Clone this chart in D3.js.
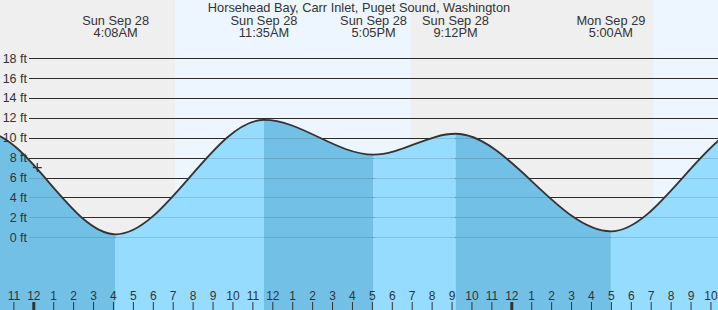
<!DOCTYPE html>
<html>
<head>
<meta charset="utf-8">
<script src="https://cdn.jsdelivr.net/npm/d3@7"></script>
<style>
  body { margin: 0; }
  svg { display: block; font-family: "Liberation Sans", Arial, sans-serif; }
</style>
</head>
<body>
<svg width="718" height="310"></svg>
<script>
const svg = d3.select('svg');
const width = +svg.attr("width");
const height = +svg.attr("height");

const title = "Horsehead Bay, Carr Inlet, Puget Sound, Washington";

// tide extremes (first two and last two lie just outside the view)
const tideTimes = [
    new Date(2025, 8, 27, 16, 20),
    new Date(2025, 8, 27, 21, 30),
    new Date(2025, 8, 28, 4, 8),
    new Date(2025, 8, 28, 11, 35),
    new Date(2025, 8, 28, 17, 5),
    new Date(2025, 8, 28, 21, 12),
    new Date(2025, 8, 29, 5, 0),
    new Date(2025, 8, 29, 12, 16),
    new Date(2025, 8, 29, 17, 40)
];
const tideHeights = [8.0, 10.6, 0.3, 11.8, 8.3, 10.4, 0.6, 11.5, 8.0];

// which extremes get a label at the top
const labelIdx = [2, 3, 4, 5, 6];

// sunrise / sunset
const nightStarts = [new Date(2025, 8, 27, 18, 58), new Date(2025, 8, 28, 18, 56)];
const nightEnds = [new Date(2025, 8, 28, 7, 7), new Date(2025, 8, 29, 7, 8)];

const yTicks = [0, 2, 4, 6, 8, 10, 12, 14, 16, 18];

const nowTime = new Date(2025, 8, 28, 0, 12);
const nowLevel = 7.0;

const x = d3.scaleTime()
    .domain([new Date(2025, 8, 28, 0, 0), new Date(2025, 8, 29, 0, 0)])
    .range([33.3, 511.3]);
const y = d3.scaleLinear().domain([0, 18]).range([237.3, 58.1]);

// background day / night
svg.append("rect").attr("width", width).attr("height", height).attr("fill", "#edf6fe");
svg.selectAll(".night")
    .data(nightStarts)
    .enter().append("rect")
    .attr("x", (d) => x(d))
    .attr("width", (d, i) => x(nightEnds[i]) - x(d))
    .attr("y", 0)
    .attr("height", height)
    .attr("fill", "#efefef");

const pts = tideTimes.map((t, i) => [t, tideHeights[i]]);

// grid lines
const grid = (g, color, op) => {
    g.selectAll("line")
        .data(yTicks)
        .enter().append("line")
        .attr("x1", 29).attr("x2", width)
        .attr("y1", (d) => Math.round(y(d)) + 0.5)
        .attr("y2", (d) => Math.round(y(d)) + 0.5)
        .attr("stroke", color)
        .attr("stroke-opacity", op);
};
svg.append("g").call(grid, "#333", 1);

// tide area
const area = d3.area()
    .x((d) => x(d[0]))
    .y0(height)
    .y1((d) => y(d[1]))
    .curve(d3.curveMonotoneX);

svg.append("clipPath").attr("id", "tide")
    .append("path").attr("d", area(pts));

const bands = svg.append("g").attr("clip-path", "url(#tide)");
for (let i = 0; i < tideTimes.length - 1; i++) {
    bands.append("rect")
        .attr("x", x(tideTimes[i]))
        .attr("width", x(tideTimes[i + 1]) - x(tideTimes[i]))
        .attr("y", 0)
        .attr("height", height)
        .attr("fill", tideHeights[i + 1] < tideHeights[i] ? "#73c0e6" : "#96dcfe");
}

svg.append("g").call(grid, "#000", 0.13);

const line = d3.line()
    .x((d) => x(d[0]))
    .y((d) => y(d[1]))
    .curve(d3.curveMonotoneX);
svg.append("path")
    .attr("d", line(pts))
    .attr("fill", "none")
    .attr("stroke", "#333")
    .attr("stroke-width", 1.8);

// y labels
svg.append("g").selectAll("text")
    .data(yTicks)
    .enter().append("text")
    .attr("x", 27)
    .attr("y", (d) => y(d) + 4.5)
    .attr("text-anchor", "end")
    .style("font-size", "12.5px")
    .attr("fill", "#333")
    .text((d) => d + " ft");

// now marker
svg.append("path")
    .attr("d", d3.symbol(d3.symbolCross, 0).size(1)())
    .attr("transform", "translate(" + x(nowTime) + "," + y(nowLevel) + ")");
const mx = x(nowTime), my = y(nowLevel);
svg.append("path")
    .attr("d", "M" + (mx - 4.5) + "," + my + "h9M" + mx + "," + (my - 4.5) + "v9")
    .attr("stroke", "#333")
    .attr("stroke-width", 1.2);

// bottom hour axis
const hours = d3.timeHour.range(d3.timeHour.ceil(x.invert(0)), x.invert(width + 1));
const axis = svg.append("g")
    .attr("transform", "translate(0," + height + ")")
    .call(d3.axisTop(x).tickValues(hours).tickFormat(d3.timeFormat("%-I")).tickSize(8).tickPadding(2));
axis.select(".domain").remove();
axis.selectAll("line").attr("stroke", "#333");
axis.selectAll(".tick").filter((d) => d.getHours() === 0).select("line").attr("stroke-width", 3);
axis.selectAll("text")
    .attr("fill", "#333")
    .style("font-size", "12px")
    .style("font-family", "'Liberation Sans', Arial, sans-serif");

// title and event labels
svg.append("text")
    .attr("x", width / 2)
    .attr("y", 12)
    .attr("text-anchor", "middle")
    .style("font-size", "12.8px")
    .attr("fill", "#333")
    .text(title);

const fmtDay = d3.timeFormat("%a %b %-d");
const fmtTime = d3.timeFormat("%-I:%M%p");
const lbl = svg.append("g").selectAll("g")
    .data(labelIdx)
    .enter().append("g");
lbl.append("text")
    .attr("x", (i) => x(tideTimes[i]))
    .attr("y", 24.5)
    .attr("text-anchor", "middle")
    .style("font-size", "12.8px")
    .attr("fill", "#333")
    .text((i) => fmtDay(tideTimes[i]));
lbl.append("text")
    .attr("x", (i) => x(tideTimes[i]))
    .attr("y", 36.5)
    .attr("text-anchor", "middle")
    .style("font-size", "12.8px")
    .attr("fill", "#333")
    .text((i) => fmtTime(tideTimes[i]));
</script>
</body>
</html>
